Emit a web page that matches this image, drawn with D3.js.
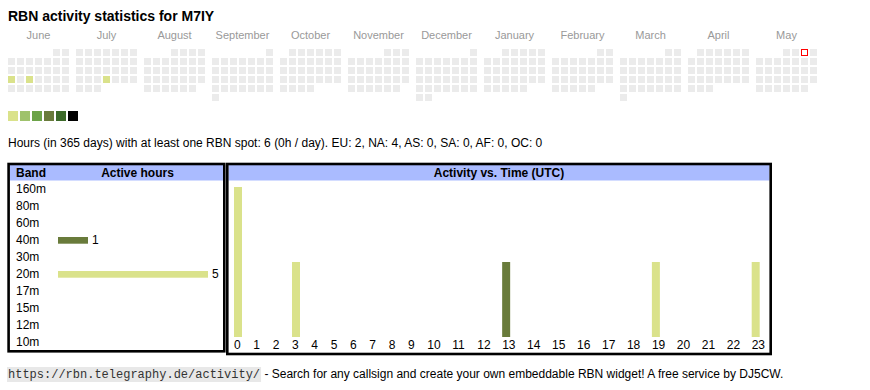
<!DOCTYPE html>
<html>
<head>
<meta charset="utf-8">
<style>
  body { margin: 0; background: #ffffff; }
  svg { display: block; font-family: "Liberation Sans", Arial, sans-serif; }
</style>
</head>
<body>
<svg width="870" height="390"></svg>
<script src="https://cdn.jsdelivr.net/npm/d3@7"></script>
<script>
// ---- data ----
let months = ["June", "July", "August", "September", "October", "November",
              "December", "January", "February", "March", "April", "May"];
let firstMonth = new Date(2024, 5, 1);
let activeDays = ["2024-06-17", "2024-06-19", "2024-07-25"];
let activeLevels = [1, 1, 1];
let today = "2025-05-03";
let legendColors = ["#dae28b", "#9fc26c", "#6ca348", "#697b3b", "#3c6a29", "#000000"];

let bands = ["160m", "80m", "60m", "40m", "30m", "20m", "17m", "15m", "12m", "10m"];
let bandHours = [0, 0, 0, 1, 0, 5, 0, 0, 0, 0];
let bandColors = ["#9c6b4a", "#b88a5c", "#c9a35e", "#697b3b", "#8db35a", "#dae28b", "#7fb8c9", "#5c8fc2", "#7a6cc0", "#b06cb8"];

let hours = d3.range(24);
// active hours per UTC hour, split by band: [hour, band, count]
let hourActivity = [
  [0, "20m", 2],
  [3, "20m", 1],
  [13, "40m", 1],
  [19, "20m", 1],
  [23, "20m", 1]
];

let statsText = "Hours (in 365 days) with at least one RBN spot: 6 (0h / day). EU: 2, NA: 4, AS: 0, SA: 0, AF: 0, OC: 0";
let linkText = "https://rbn.telegraphy.de/activity/";
let footerText = " - Search for any callsign and create your own embeddable RBN widget! A free service by DJ5CW.";

// ---- drawing ----
let svg = d3.select("svg");
let fmt = d3.timeFormat("%Y-%m-%d");
let bandColor = d3.scaleOrdinal().domain(bands).range(bandColors);

svg.append("text")
  .attr("x", 8).attr("y", 21)
  .attr("font-size", 14).attr("font-weight", "bold")
  .text("RBN activity statistics for M7IY");

// calendar
let monthX = d3.scaleLinear().domain([0, 12]).range([8, 824]);
let cell = 9, cellSize = 7, calTop = 49;
let cellX = (d, x0) => x0 + ((d.getDay() + 6) % 7) * cell;
let cellY = (d, offset) => calTop + Math.floor((d.getDate() - 1 + offset) / 7) * cell;

let cal = svg.append("g");
let marker = null;
months.forEach((m, i) => {
  let start = d3.timeMonth.offset(firstMonth, i);
  let days = d3.timeDay.range(start, d3.timeMonth.offset(start, 1));
  let offset = (start.getDay() + 6) % 7;
  let x0 = monthX(i);

  cal.append("text")
    .attr("x", x0 + 30.5).attr("y", 39)
    .attr("text-anchor", "middle")
    .attr("font-size", 11).attr("fill", "#999999")
    .text(m);

  cal.selectAll(null)
    .data(days)
    .enter()
    .append("rect")
    .attr("x", d => cellX(d, x0))
    .attr("y", d => cellY(d, offset))
    .attr("width", cellSize).attr("height", cellSize)
    .attr("fill", d => {
      let k = activeDays.indexOf(fmt(d));
      return k >= 0 ? legendColors[activeLevels[k] - 1] : "#ebebeb";
    });

  days.filter(d => fmt(d) == today).forEach(d => {
    marker = {x: cellX(d, x0), y: cellY(d, offset)};
  });
});

// today's cell: white with a red outline (red square + white inset)
if (marker) {
  svg.append("rect")
    .attr("x", marker.x).attr("y", marker.y)
    .attr("width", cellSize).attr("height", cellSize)
    .attr("fill", "#ff0000");
  svg.append("rect")
    .attr("x", marker.x + 1).attr("y", marker.y + 1)
    .attr("width", cellSize - 2).attr("height", cellSize - 2)
    .attr("fill", "#ffffff");
}

// legend
svg.append("g").selectAll("rect")
  .data(legendColors)
  .enter()
  .append("rect")
  .attr("x", (d, i) => 8 + i * 12).attr("y", 111)
  .attr("width", 10).attr("height", 10)
  .attr("fill", d => d);

svg.append("text")
  .attr("x", 8).attr("y", 147)
  .attr("font-size", 12)
  .text(statsText);

// left table: band / active hours
let left = svg.append("g");
left.append("rect")
  .attr("x", 9.5).attr("y", 165).attr("width", 214).attr("height", 15.5)
  .attr("fill", "#aabbff");
left.append("rect")
  .attr("x", 8.6).attr("y", 164).attr("width", 215.7).attr("height", 187.3)
  .attr("fill", "none").attr("stroke", "#000").attr("stroke-width", 2.6);
left.append("text").attr("x", 16).attr("y", 177)
  .attr("font-size", 12).attr("font-weight", "bold").text("Band");
left.append("text").attr("x", 137.5).attr("y", 177).attr("text-anchor", "middle")
  .attr("font-size", 12).attr("font-weight", "bold").text("Active hours");

let bandY = d3.scalePoint().domain(bands).range([193.3, 346.3]);
let bandX = d3.scaleLinear().domain([0, 5]).range([58, 208]);

left.selectAll(".blabel")
  .data(bands)
  .enter()
  .append("text")
  .attr("x", 16).attr("y", d => bandY(d))
  .attr("font-size", 12)
  .text(d => d);

let bandRows = bands.map((b, i) => ({band: b, hours: bandHours[i]})).filter(d => d.hours > 0);
left.selectAll(".bbar")
  .data(bandRows)
  .enter()
  .append("rect")
  .attr("x", bandX(0))
  .attr("y", d => bandY(d.band) - 7.3)
  .attr("width", d => bandX(d.hours) - bandX(0))
  .attr("height", 6.7)
  .attr("fill", d => bandColor(d.band));
left.selectAll(".bval")
  .data(bandRows)
  .enter()
  .append("text")
  .attr("x", d => bandX(d.hours) + 4)
  .attr("y", d => bandY(d.band))
  .attr("font-size", 12)
  .text(d => d.hours);

// right table: activity vs time
let right = svg.append("g");
right.append("rect")
  .attr("x", 228.5).attr("y", 165).attr("width", 541).attr("height", 15.5)
  .attr("fill", "#aabbff");
right.append("rect")
  .attr("x", 227.3).attr("y", 164).attr("width", 543.4).attr("height", 190)
  .attr("fill", "none").attr("stroke", "#000").attr("stroke-width", 2.6);
right.append("text").attr("x", 499).attr("y", 177).attr("text-anchor", "middle")
  .attr("font-size", 12).attr("font-weight", "bold").text("Activity vs. Time (UTC)");

// columns are narrower for one-digit hours than for two-digit ones
let hourX = d3.scaleLinear().domain([0, 10, 23]).range([234, 427.3, 751.7]);
let countY = d3.scaleLinear().domain([0, 2]).range([337, 187]);

let stacked = [];
hours.forEach(h => {
  let acc = 0;
  bands.forEach(b => {
    hourActivity.filter(r => r[0] == h && r[1] == b).forEach(r => {
      stacked.push({hour: h, band: b, y0: acc, y1: acc + r[2]});
      acc += r[2];
    });
  });
});

right.selectAll(".hbar")
  .data(stacked)
  .enter()
  .append("rect")
  .attr("x", d => hourX(d.hour))
  .attr("y", d => countY(d.y1))
  .attr("width", 8)
  .attr("height", d => countY(d.y0) - countY(d.y1))
  .attr("fill", d => bandColor(d.band));

right.selectAll(".hlabel")
  .data(hours)
  .enter()
  .append("text")
  .attr("x", d => hourX(d))
  .attr("y", 349.3)
  .attr("font-size", 12)
  .text(d => d);

// footer
let foot = svg.append("g");
let link = foot.append("text")
  .attr("x", 8).attr("y", 378)
  .attr("font-family", "'Liberation Mono', monospace")
  .attr("font-size", 12).attr("fill", "#333")
  .text(linkText);
let lw = link.node().getComputedTextLength();
foot.insert("rect", "text")
  .attr("x", 7).attr("y", 367).attr("width", lw + 2).attr("height", 15)
  .attr("fill", "#e8e8e8");
foot.append("text")
  .attr("x", 8 + lw + 1).attr("y", 378)
  .attr("font-size", 12)
  .style("white-space", "pre")
  .text(footerText);
</script>
</body>
</html>
